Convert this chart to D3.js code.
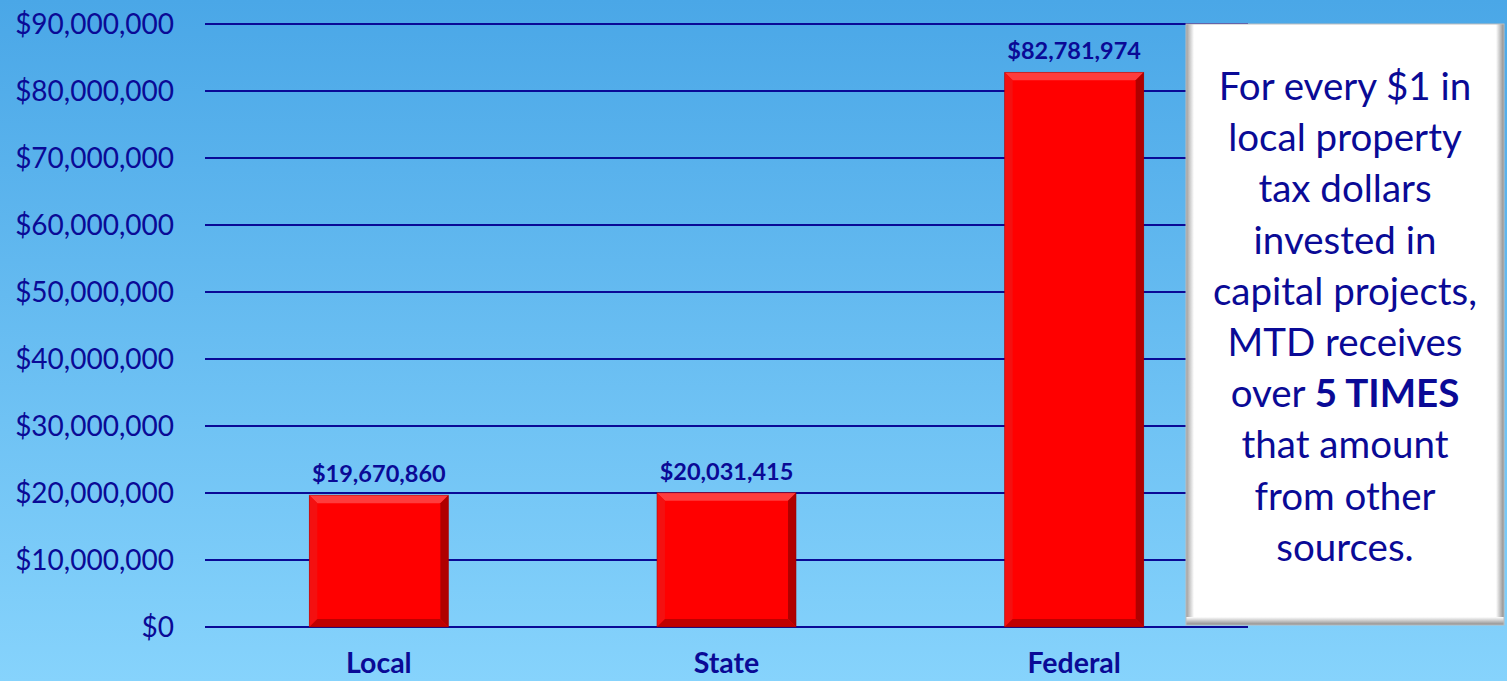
<!DOCTYPE html>
<html><head><meta charset="utf-8">
<script src="https://cdn.jsdelivr.net/npm/d3@7"></script>
<style>html,body{margin:0;padding:0;overflow:hidden;}</style>
</head><body>
<svg id="c" width="1507" height="681"></svg>
<script>
const categories = ["Local", "State", "Federal"];
const values = [19670860, 20031415, 82781974];
const tickValues = [0,10000000,20000000,30000000,40000000,50000000,60000000,70000000,80000000,90000000];
const noteLines = [
  [["For every $1 in", false]],
  [["local property", false]],
  [["tax dollars", false]],
  [["invested in", false]],
  [["capital projects,", false]],
  [["MTD receives", false]],
  [["over ", false], ["5 TIMES", true]],
  [["that amount", false]],
  [["from other", false]],
  [["sources.", false]]
];

const W = 1507, H = 681;
const svg = d3.select("#c");
const navy = "#0A0A96";
const font = "Lato, 'Open Sans', sans-serif";

const defs = svg.append("defs");
const bg = defs.append("linearGradient").attr("id","bg").attr("x1",0).attr("y1",0).attr("x2",0).attr("y2",1);
bg.append("stop").attr("offset","0%").attr("stop-color","#4AA7E7");
bg.append("stop").attr("offset","100%").attr("stop-color","#86D3FC");
svg.append("rect").attr("width",W).attr("height",H).attr("fill","url(#bg)");

const x0 = 205, x1 = 1248, yTop = 24, yBot = 627;
const x = d3.scaleBand().domain(categories).range([x0,x1]).paddingInner(0.6).paddingOuter(0.3);
const y = d3.scaleLinear().domain([0,90000000]).range([yBot,yTop]);

// gridlines
const fmt = d => "$" + d3.format(",")(d);
svg.append("g").selectAll("line").data(tickValues).join("line")
  .attr("x1",x0).attr("x2",x1).attr("y1",d=>y(d)).attr("y2",d=>y(d))
  .attr("stroke",navy).attr("stroke-width",2);

// y axis labels
const yAxis = d3.axisLeft(y).tickValues(tickValues).tickFormat(fmt).tickSize(0).tickPadding(0);
const ga = svg.append("g").attr("transform","translate(174,0)").call(yAxis);
ga.select(".domain").remove();
ga.selectAll("text").attr("fill",navy).attr("font-family",font).attr("font-size",28).attr("dy","0.35em");

// bars with bevel
const bev = 8;
const gb = svg.append("g");
const pts = (arr)=>arr.map(p=>p.join(",")).join(" ");
categories.forEach((c,i)=>{
  const bx = x(c), bw = x.bandwidth(), by = y(values[i]), bh = yBot - y(values[i]);
  const g = gb.append("g");
  g.append("rect").attr("x",bx).attr("y",by).attr("width",bw).attr("height",bh).attr("fill","#FF0000");
  g.append("polygon").attr("points",pts([[bx,by],[bx+bw,by],[bx+bw-bev,by+bev],[bx+bev,by+bev]])).attr("fill","#FF3C3C");
  g.append("polygon").attr("points",pts([[bx,by],[bx+bev,by+bev],[bx+bev,by+bh-bev],[bx,by+bh]])).attr("fill","#F41010");
  g.append("polygon").attr("points",pts([[bx+bw,by],[bx+bw,by+bh],[bx+bw-bev,by+bh-bev],[bx+bw-bev,by+bev]])).attr("fill","#B00000");
  g.append("polygon").attr("points",pts([[bx,by+bh],[bx+bw,by+bh],[bx+bw-bev,by+bh-bev],[bx+bev,by+bh-bev]])).attr("fill","#C00000");
  g.append("rect").attr("x",bx).attr("y",by).attr("width",bw).attr("height",bh).attr("fill","none").attr("stroke","#8a0000").attr("stroke-width",0.8).attr("opacity",0.5);
  svg.append("text").attr("x",bx+bw/2).attr("y",by-13).attr("text-anchor","middle")
    .attr("font-family",font).attr("font-weight","bold").attr("font-size",23.5).attr("fill",navy)
    .text(fmt(values[i]));
});

// category labels
const xAxis = d3.axisBottom(x).tickSize(0).tickPadding(0);
const gx = svg.append("g").attr("transform","translate(0,673)").call(xAxis);
gx.select(".domain").remove();
gx.selectAll("text").attr("fill",navy).attr("font-family",font).attr("font-weight","bold").attr("font-size",28.5).attr("dy","0").attr("y",0);

// note box
const bxL = 1186, bxT = 24, bxR = 1504, bxB = 625;
const sg = defs.append("linearGradient").attr("id","edgeL").attr("x1",0).attr("x2",1);
sg.append("stop").attr("offset","0%").attr("stop-color","#9a9a9a");
sg.append("stop").attr("offset","100%").attr("stop-color","#ffffff");
const sgR = defs.append("linearGradient").attr("id","edgeR").attr("x1",0).attr("x2",1);
sgR.append("stop").attr("offset","0%").attr("stop-color","#ffffff");
sgR.append("stop").attr("offset","100%").attr("stop-color","#8a8a8a");
const sgB = defs.append("linearGradient").attr("id","edgeB").attr("x1",0).attr("x2",0).attr("y1",0).attr("y2",1);
sgB.append("stop").attr("offset","0%").attr("stop-color","#ffffff");
sgB.append("stop").attr("offset","100%").attr("stop-color","#8a8a8a");
svg.append("rect").attr("x",bxL).attr("y",bxT).attr("width",bxR-bxL).attr("height",bxB-bxT).attr("fill","#ffffff");
svg.append("rect").attr("x",bxL).attr("y",bxT).attr("width",8).attr("height",bxB-bxT).attr("fill","url(#edgeL)");
svg.append("rect").attr("x",bxR-8).attr("y",bxT).attr("width",8).attr("height",bxB-bxT).attr("fill","url(#edgeR)");
svg.append("rect").attr("x",bxL).attr("y",bxB-8).attr("width",bxR-bxL).attr("height",8).attr("fill","url(#edgeB)");
svg.append("rect").attr("x",bxL).attr("y",bxT).attr("width",bxR-bxL).attr("height",bxB-bxT).attr("fill","none").attr("stroke","#bdbdbd").attr("stroke-width",1);

const cx = (bxL+bxR)/2;
noteLines.forEach((parts,i)=>{
  const t = svg.append("text").attr("x",cx).attr("y",100 + i*51.2).attr("text-anchor","middle")
    .attr("font-family",font).attr("font-size",38.5).attr("fill",navy);
  parts.forEach(p=>{
    t.append("tspan").attr("font-weight",p[1]?"bold":"normal").text(p[0]);
  });
});
</script>
</body></html>
